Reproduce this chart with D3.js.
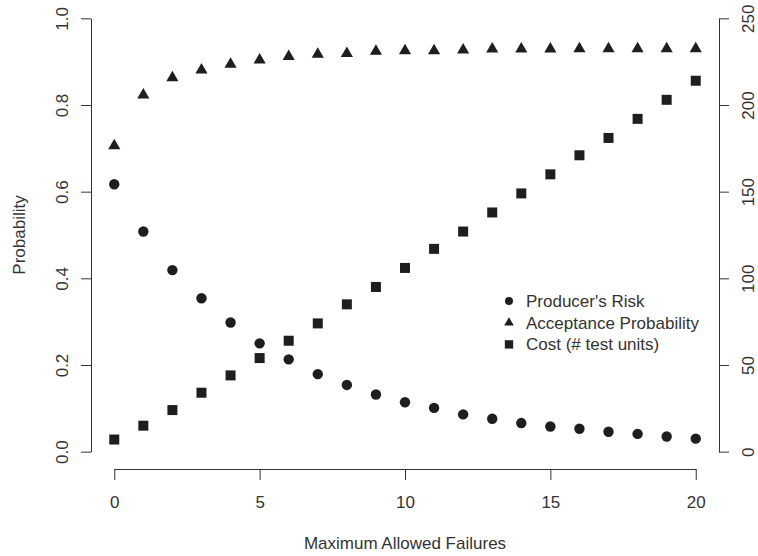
<!DOCTYPE html>
<html>
<head>
<meta charset="utf-8">
<script src="https://cdn.jsdelivr.net/npm/d3@7"></script>
<style>
  body { margin: 0; background: #fff; }
  text { font-family: "Liberation Sans", Arial, sans-serif; }
</style>
</head>
<body>
<div id="my_dataviz"></div>
<script>
// data
var failures = [0, 1, 2, 3, 4, 5, 6, 7, 8, 9, 10, 11, 12, 13, 14, 15, 16, 17, 18, 19, 20];
var producersRisk = [0.617, 0.508, 0.419, 0.354, 0.298, 0.250, 0.213, 0.179, 0.154, 0.132, 0.114,
                     0.101, 0.086, 0.076, 0.066, 0.058, 0.053, 0.046, 0.041, 0.035, 0.030];
var acceptProb = [0.706, 0.823, 0.863, 0.881, 0.894, 0.904, 0.912, 0.917, 0.919, 0.924, 0.925,
                  0.925, 0.927, 0.929, 0.929, 0.929, 0.930, 0.930, 0.930, 0.930, 0.930];
var cost = [7, 15, 24, 34, 44, 54, 64, 74, 85, 95, 106, 117, 127, 138, 149, 160, 171, 181, 192, 203, 214];
var xTicks = [0, 5, 10, 15, 20];
var probTicks = [0, 0.2, 0.4, 0.6, 0.8, 1.0];
var costTicks = [0, 50, 100, 150, 200, 250];
var legendLabels = ["Producer's Risk", "Acceptance Probability", "Cost (# test units)"];

var width = 758, height = 556;
var margin = {top: 1, right: 39, bottom: 87, left: 91};
var fs = 17;

var svg = d3.select("#my_dataviz")
  .append("svg")
    .attr("width", width)
    .attr("height", height);

var ink = "#1e1e1e", axisCol = "#333";

// scales (R style 4% padding)
var x = d3.scaleLinear()
    .domain([-0.8, 20.8])
    .range([margin.left, width - margin.right]);
var y = d3.scaleLinear()
    .domain([-0.04, 1.04])
    .range([height - margin.bottom, margin.top]);
var y2 = d3.scaleLinear()
    .domain([-10, 260])
    .range([height - margin.bottom, margin.top]);

// x axis, line only spans ticks
var xAxisScale = x.copy().domain([0, 20]).range([x(0), x(20)]);
var gx = svg.append("g")
    .attr("transform", "translate(0," + (height - margin.bottom) + ")")
    .call(d3.axisBottom(xAxisScale).tickValues(xTicks).tickSize(11).tickSizeOuter(0).tickPadding(16));

// left axis
var yAxisScale = y.copy().domain([0, 1]).range([y(0), y(1)]);
var gy = svg.append("g")
    .attr("transform", "translate(" + margin.left + ",0)")
    .call(d3.axisLeft(yAxisScale).tickValues(probTicks).tickSize(10).tickSizeOuter(0)
      .tickFormat(d3.format(".1f")));
gy.selectAll(".tick text")
    .attr("x", 0).attr("y", 0).attr("dy", "0.35em")
    .attr("text-anchor", "middle")
    .attr("transform", "translate(-29,0) rotate(-90)");

// right axis
var y2AxisScale = y2.copy().domain([0, 250]).range([y2(0), y2(250)]);
var gy2 = svg.append("g")
    .attr("transform", "translate(" + (width - margin.right) + ",0)")
    .call(d3.axisRight(y2AxisScale).tickValues(costTicks).tickSize(10).tickSizeOuter(0));
gy2.selectAll(".tick text")
    .attr("x", 0).attr("y", 0).attr("dy", "0.3em")
    .attr("text-anchor", "middle")
    .attr("transform", "translate(30,0) rotate(-90)");

[gx, gy, gy2].forEach(function(g) {
  g.attr("font-size", fs).attr("font-family", null);
  g.selectAll("path, line").attr("stroke", axisCol);
  g.selectAll("text").attr("fill", axisCol);
});

// points
var pts = svg.append("g");
pts.selectAll(".risk")
    .data(failures)
    .enter()
    .append("circle")
      .attr("cx", function(d) { return x(d); })
      .attr("cy", function(d, i) { return y(producersRisk[i]); })
      .attr("r", 5.2)
      .style("fill", ink);

pts.selectAll(".accept")
    .data(failures)
    .enter()
    .append("path")
      .attr("d", d3.symbol().type(d3.symbolTriangle).size(64))
      .attr("transform", function(d, i) { return "translate(" + x(d) + "," + y(acceptProb[i]) + ")"; })
      .style("fill", ink);

pts.selectAll(".cost")
    .data(failures)
    .enter()
    .append("path")
      .attr("d", d3.symbol().type(d3.symbolSquare).size(100))
      .attr("transform", function(d, i) { return "translate(" + x(d) + "," + y2(cost[i]) + ")"; })
      .style("fill", ink);

// legend
var legendSymbols = [
  d3.symbol().type(d3.symbolCircle).size(50),
  d3.symbol().type(d3.symbolTriangle).size(40),
  d3.symbol().type(d3.symbolSquare).size(70)
];
var legend = svg.append("g").attr("transform", "translate(509,301)");
legendLabels.forEach(function(label, i) {
  legend.append("path")
      .attr("d", legendSymbols[i])
      .attr("transform", "translate(0," + (i * 21.7) + ")")
      .style("fill", ink);
  legend.append("text")
      .attr("x", 17)
      .attr("y", i * 21.7)
      .attr("dy", "0.35em")
      .attr("font-size", fs)
      .attr("fill", axisCol)
      .text(label);
});

// axes labels
svg.append("text")
    .attr("x", (x(0) + x(20)) / 2)
    .attr("y", 543)
    .attr("dy", "0.35em")
    .attr("text-anchor", "middle")
    .attr("font-size", fs)
    .attr("fill", axisCol)
    .text("Maximum Allowed Failures");

svg.append("text")
    .attr("transform", "translate(19," + ((y(0) + y(1)) / 2) + ") rotate(-90)")
    .attr("dy", "0.35em")
    .attr("text-anchor", "middle")
    .attr("font-size", fs)
    .attr("fill", axisCol)
    .text("Probability");
</script>
</body>
</html>
